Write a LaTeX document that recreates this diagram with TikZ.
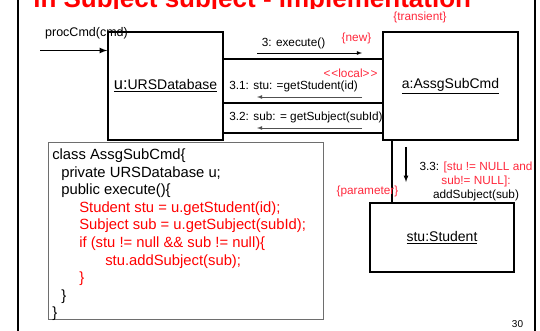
\documentclass[tikz,border=0pt]{standalone}
\usepackage{fontspec}
\setmainfont{Liberation Sans}
\usepackage{xcolor}
\usepackage{tikz}
\usetikzlibrary{arrows}
\usetikzlibrary{positioning}

\definecolor{notered}{RGB}{255,40,60}
\definecolor{msggray}{RGB}{80,80,80}
\definecolor{boxgray}{RGB}{110,110,110}

\begin{document}
\begin{tikzpicture}[x=1pt, y=-1pt, >=latex, semithick]
	\tikzstyle{object}=[draw=black, line width=1.6pt, fill=white, inner sep=0pt, font=\fontsize{14}{16}\selectfont]
	\tikzstyle{msg}=[inner sep=0pt, font=\fontsize{11.8}{14}\selectfont]
	\tikzstyle{note}=[msg, text=notered]
	\tikzstyle{call}=[->, draw=msggray, line width=0.8pt]
	\useasboundingbox (0,0) rectangle (540,331);

	% title, cut off by the frame
	\begin{scope}
		\clip (0,-20) rectangle (540,8.3);
		\node[anchor=base west, inner sep=0pt, text depth=0pt, text=red, font=\fontsize{26}{30}\selectfont\bfseries] (title) at (33,8) {in Subject subject - implementation};
	\end{scope}
	\draw[line width=2pt] (18,0) -- (18,331);
	\draw[line width=2pt] (535,0) -- (535,331);

	% objects
	\node[object, minimum width=115, minimum height=108] (u) at (165.5,86) {\underline{{\fontsize{16.5}{17}\selectfont u:}URSDatabase}};
	\node[object, minimum width=135, minimum height=108] (a) [right=158.4pt of u] {\underline{a:AssgSubCmd}};
	\node[object, minimum width=144, minimum height=69] (s) [below=61.4pt of a, xshift=-8.5pt] {\underline{stu:Student}};

	% link u -- a
	\coordinate (bandtop) at (0,59);
	\coordinate (bandmid) at (0,103);
	\coordinate (bandbot) at (0,133);
	\foreach \y in {bandtop,bandmid,bandbot}{
		\draw[line width=1.6pt] (u.east |- \y) -- (a.west |- \y);
	}

	% link a -- s
	\coordinate (link) at (392,0);
	\draw[line width=1.6pt] (a.south -| link) -- (s.north -| link);

	% incoming message
	\coordinate (pc) at (40,50.5);
	\draw[->, line width=1.6pt] (pc) -- (pc -| u.west);
	\node[msg, font=\fontsize{12.5}{14}\selectfont] (proc) at (86.5,33) {procCmd(cmd)};

	% messages between u and a
	\coordinate (m3s) at (257,53);
	\coordinate (m3e) at (362,53);
	\coordinate (m31s) at (362,97);
	\coordinate (m31e) at (257,97);
	\coordinate (m32s) at (362,128);
	\coordinate (m32e) at (257,128);
	\draw[call, draw=black] (m3s) -- (m3e);
	\draw[call] (m31s) -- (m31e);
	\draw[call] (m32s) -- (m32e);
	\node[msg] (m3) at (293.5,43) {3: execute()};
	\node[note] (new) at (356.5,38) {\{new\}};
	\node[note] (local) at (350.5,73) {<\kern1pt<local>\kern1pt>};
	\node[msg, anchor=west] (m31) at (229,86) {3.1: stu: =getStudent(id)};
	\node[msg, anchor=west] (m32) at (229,117) {3.2: sub: = getSubject(subId)};

	% message a -> s
	\coordinate (m33s) at (406,147);
	\coordinate (m33e) at (406,182);
	\draw[->, line width=1.2pt] (m33s) -- (m33e);
	\node[msg, align=center] (m33) at (476,181) {3.3: \textcolor{notered}{[stu != NULL and}\\\textcolor{notered}{sub!= NULL]:}\\addSubject(sub)};
	\node[note] (param) at (367.5,191) {\{parameter\}};
	\node[note] (trans) at (420,17) {\{transient\}};

	% code
	\node[draw=boxgray, line width=1pt, fill=white, minimum width=275, minimum height=176, inner sep=0pt] (codebox) at (185.5,231) {};
	\node[inner sep=0pt, align=left, font=\fontsize{14.8}{17.6}\selectfont] (code) [below right=6pt and 4.5pt of codebox.north west] {class AssgSubCmd\{\\
		\hspace*{9pt}private URSDatabase u;\\
		\hspace*{9pt}public execute()\{\\
		\hspace*{27pt}\textcolor{red}{Student stu = u.getStudent(id);}\\
		\hspace*{27pt}\textcolor{red}{Subject sub = u.getSubject(subId);}\\
		\hspace*{27pt}\textcolor{red}{if (stu != null \&\& sub != null)\{}\\
		\hspace*{53pt}\textcolor{red}{stu.addSubject(sub);}\\
		\hspace*{27pt}\textcolor{red}{\}}\\
		\hspace*{9pt}\}\\
		\}};

	\node[font=\fontsize{10}{12}\selectfont, inner sep=0pt] (pagenum) at (517.5,324) {30};
\end{tikzpicture}
\end{document}
